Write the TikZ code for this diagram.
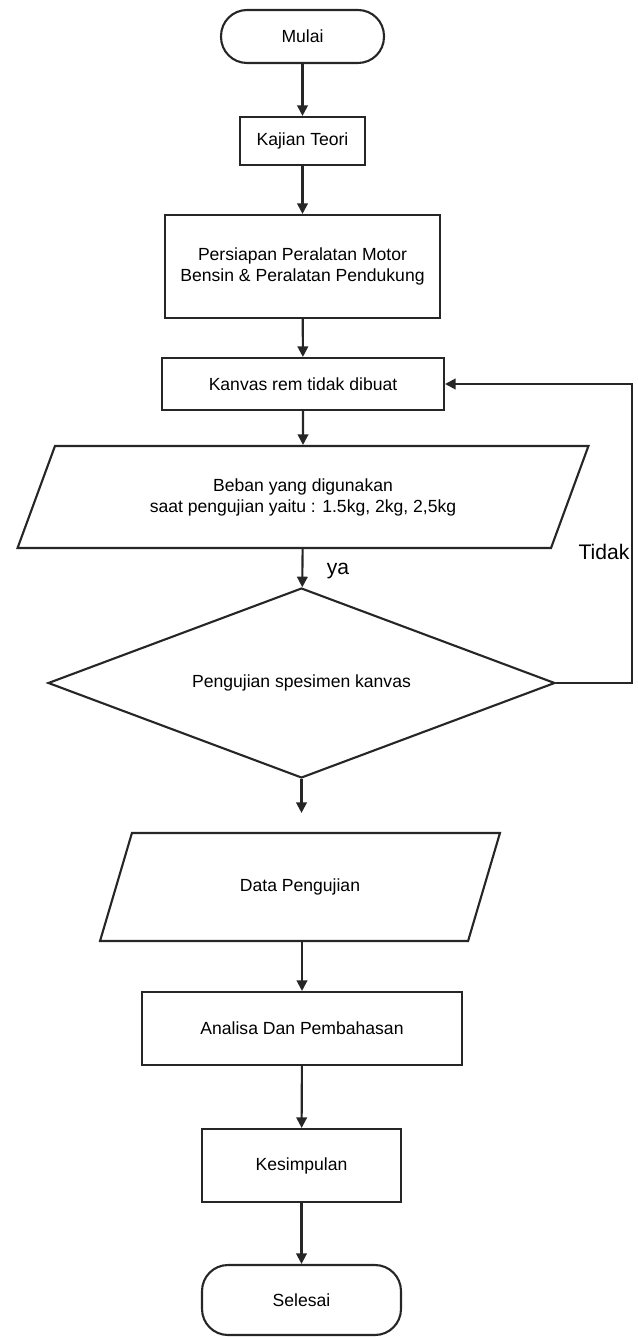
\documentclass[tikz,border=0pt]{standalone}
\usepackage{fontspec}
\setmainfont{Liberation Sans}
\usetikzlibrary{shapes.geometric,arrows.meta}

\tikzset{
  garis/.style={line width=1.2pt,draw=black!85},
  terminal/.style={garis,rectangle,rounded corners=0.52cm,minimum width=3.26cm,align=center},
  proses/.style={garis,rectangle,align=center},
  masukan/.style={garis,trapezium,trapezium stretches=true,align=center},
  keputusan/.style={garis,diamond,shape aspect=2.67,align=center},
  panah/.style={garis,-{Triangle[length=6pt,width=6pt]}}
}

\begin{document}
\begin{tikzpicture}[x=0.02cm,y=-0.02cm,font=\fontsize{10}{12}\selectfont]
 \useasboundingbox (0,0) rectangle (637,1337);

 % Start and first steps
 \node[terminal,minimum height=1.06cm] (mulai) at (302.5,36.5) {Mulai};
 \node[proses,minimum width=2.5cm,minimum height=0.96cm] (kajian) at (302.5,141) {Kajian Teori};
 \node[proses,minimum width=5.5cm,minimum height=2.06cm] (persiapan) at (302.5,266.5)
   {Persiapan Peralatan Motor\\Bensin \& Peralatan Pendukung};
 \node[proses,minimum width=5.64cm,minimum height=1.04cm] (kanvas) at (303,384) {Kanvas rem tidak dibuat};

 % Load and test
 \node[masukan,trapezium left angle=64,trapezium right angle=116,
   minimum width=11.44cm,minimum height=2.04cm] (beban) at (303,497)
   {Beban yang digunakan\\saat pengujian yaitu : 1.5kg, 2kg, 2,5kg};
 \node[keputusan,minimum width=10.14cm,minimum height=3.8cm] (uji) at (301.5,683) {Pengujian spesimen kanvas};

 % Results
 \node[masukan,trapezium left angle=66,trapezium right angle=114,
   minimum width=8cm,minimum height=2.16cm] (data) at (300,887) {Data Pengujian};
 \node[proses,minimum width=6.4cm,minimum height=1.46cm] (analisa) at (302,1028.5) {Analisa Dan Pembahasan};
 \node[proses,minimum width=3.98cm,minimum height=1.46cm] (kesimpulan) at (301.5,1165.5) {Kesimpulan};
 \node[terminal,minimum width=3.98cm,minimum height=1.4cm] (selesai) at (301.5,1300) {Selesai};

 % Labels of the decision
 \node[font=\large] (ya) at (338,571) {ya};
 \node[font=\large] (tidak) at (604,552) {Tidak};

 % Main flow
 \draw[panah] (mulai) -- (kajian);
 \draw[panah] (kajian) -- (persiapan);
 \draw[panah] (persiapan) -- (kanvas);
 \draw[panah] (kanvas) -- (beban);
 \draw[panah] (beban) -- (uji);
 \draw[panah,shorten >=0.38cm] (uji.south) -- (data.north -| uji.south);
 \draw[panah] (data.south -| analisa.north) -- (analisa);
 \draw[panah] (analisa) -- (kesimpulan);
 \draw[panah] (kesimpulan) -- (selesai);

 % Back to the brake lining step
 \coordinate (pojok) at (632,683);
 \draw[panah] (uji.east) -- (pojok) |- (kanvas.east);

\end{tikzpicture}
\end{document}
